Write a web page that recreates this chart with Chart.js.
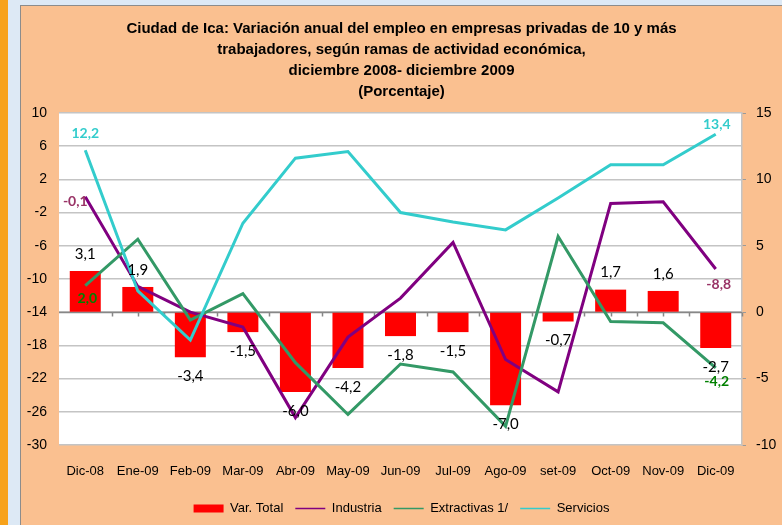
<!DOCTYPE html>
<html lang="es">
<head>
<meta charset="UTF-8">
<title>Ciudad de Ica - Variación anual del empleo</title>
<script src="https://cdn.jsdelivr.net/npm/chart.js"></script>
<style>
    body { margin: 0; width: 782px; height: 525px; background: #dde9f5; position: relative; overflow: hidden; }
    #strip { position: absolute; left: 0; top: 0; width: 8px; height: 525px; background: #f7a21b; }
    #frame { position: absolute; left: 20px; top: 5px; width: 761px; height: 519px;
             border-left: 1px solid #8c8c8c; border-top: 1px solid #8c8c8c; background: #fac090; }
    canvas { display: block; }
</style>
</head>
<body>
<div id="strip"></div>
<div id="frame"><canvas id="chart" width="761" height="519"></canvas></div>
<script>
    const categories = ['Dic-08', 'Ene-09', 'Feb-09', 'Mar-09', 'Abr-09', 'May-09', 'Jun-09',
                        'Jul-09', 'Ago-09', 'set-09', 'Oct-09', 'Nov-09', 'Dic-09'];
    const varTotal    = [3.1, 1.9, -3.4, -1.5, -6.0, -4.2, -1.8, -1.5, -7.0, -0.7, 1.7, 1.6, -2.7];
    const industria   = [-0.1, -10.9, -14.0, -15.8, -26.7, -17.0, -12.3, -5.6, -19.7, -23.6, -0.9, -0.7, -8.8];
    const extractivas = [2.0, 5.5, -0.6, 1.4, -3.8, -7.7, -3.9, -4.5, -8.6, 5.7, -0.7, -0.8, -4.2];
    const servicios   = [12.2, 1.6, -2.1, 6.7, 11.6, 12.1, 7.5, 6.8, 6.2, 8.6, 11.1, 11.1, 13.4];

    // left axis (Industria) and right axis (everything else)
    const leftRange  = { min: -30, max: 10, step: 4 };
    const rightRange = { min: -10, max: 15, step: 5 };

    const sans = "'Liberation Sans', Arial, sans-serif";
    const fmt = v => v.toFixed(1).replace('.', ',');

    // white plot area + darker zero line of the right axis with small ticks
    const plotArea = {
        id: 'plotArea',
        beforeDraw(chart) {
            const { ctx, chartArea: a } = chart;
            ctx.save();
            ctx.fillStyle = '#ffffff';
            ctx.fillRect(a.left, a.top, a.right - a.left, a.bottom - a.top);
            ctx.restore();
        },
        beforeDatasetsDraw(chart) {
            const { ctx, chartArea: a, scales } = chart;
            const y0 = Math.round(scales.y1.getPixelForValue(0)) + 0.5;
            ctx.save();
            ctx.strokeStyle = '#878787';
            ctx.lineWidth = 1.5;
            ctx.beginPath();
            ctx.moveTo(a.left, y0);
            ctx.lineTo(a.right, y0);
            for (let i = 0.5; i < categories.length; i += 0.5) {
                const x = Math.round(scales.x.getPixelForValue(i)) + 0.5;
                ctx.moveTo(x, y0);
                ctx.lineTo(x, y0 + 4);
            }
            ctx.stroke();
            ctx.restore();
        }
    };

    // value labels: all bars, first and last point of each line
    const valueLabels = {
        id: 'valueLabels',
        afterDatasetsDraw(chart) {
            const ctx = chart.ctx;
            ctx.save();
            ctx.textAlign = 'center';
            ctx.textBaseline = 'middle';
            chart.data.datasets.forEach((ds, di) => {
                const meta = chart.getDatasetMeta(di);
                if (ds.type === 'bar') {
                    ctx.font = "15px Lato, 'Open Sans', sans-serif";
                    ctx.fillStyle = '#000000';
                    meta.data.forEach((el, i) => {
                        const v = ds.data[i];
                        const y = v >= 0 ? el.y - 17 : el.y + 19;
                        ctx.fillText(fmt(v), el.x, y);
                    });
                } else {
                    ctx.font = "bold 14px Lato, 'Open Sans', sans-serif";
                    ctx.fillStyle = ds.labelColor;
                    const last = ds.data.length - 1;
                    [[0, ds.firstOffset], [last, ds.lastOffset]].forEach(([i, off]) => {
                        const el = meta.data[i];
                        ctx.fillText(fmt(ds.data[i]), el.x + off[0], el.y + off[1]);
                    });
                }
            });
            ctx.restore();
        }
    };

    new Chart(document.getElementById('chart'), {
        data: {
            labels: categories,
            datasets: [
                {
                    type: 'bar', label: 'Var. Total', data: varTotal, yAxisID: 'y1',
                    backgroundColor: '#ff0000', barPercentage: 0.59, categoryPercentage: 1,
                    order: 10, pointStyle: 'rect'
                },
                {
                    type: 'line', label: 'Industria', data: industria, yAxisID: 'y',
                    borderColor: '#800080', backgroundColor: '#800080', borderWidth: 3,
                    pointRadius: 0, tension: 0, order: 3, pointStyle: 'line',
                    labelColor: '#993366', firstOffset: [-10, 5], lastOffset: [3, 15]
                },
                {
                    type: 'line', label: 'Extractivas 1/', data: extractivas, yAxisID: 'y1',
                    borderColor: '#339966', backgroundColor: '#339966', borderWidth: 3,
                    pointRadius: 0, tension: 0, order: 2, pointStyle: 'line',
                    labelColor: '#008000', firstOffset: [2, 13], lastOffset: [1, 14]
                },
                {
                    type: 'line', label: 'Servicios', data: servicios, yAxisID: 'y1',
                    borderColor: '#33cccc', backgroundColor: '#33cccc', borderWidth: 3,
                    pointRadius: 0, tension: 0, order: 1, pointStyle: 'line',
                    labelColor: '#33cccc', firstOffset: [0, -17], lastOffset: [1, -10]
                }
            ]
        },
        options: {
            responsive: false,
            animation: false,
            devicePixelRatio: 1,
            layout: { padding: { left: 0, right: 0, top: 0, bottom: 0 } },
            scales: {
                x: {
                    grid: { display: false, drawTicks: false },
                    border: { display: false },
                    ticks: { color: '#000', font: { family: sans, size: 13 }, padding: 19, maxRotation: 0, autoSkip: false },
                    afterFit(s) { s.height = 45; }
                },
                y: {
                    position: 'left',
                    min: leftRange.min, max: leftRange.max,
                    grid: { color: '#c4c4c4', lineWidth: 1.5, drawTicks: false },
                    border: { display: false },
                    ticks: { stepSize: leftRange.step, color: '#000', font: { family: sans, size: 14 }, padding: 12 },
                    afterFit(s) { s.width = 38; }
                },
                y1: {
                    position: 'right',
                    min: rightRange.min, max: rightRange.max,
                    grid: { drawOnChartArea: false, color: '#9a9a9a', tickLength: 4 },
                    border: { display: true, color: '#c4c4c4', width: 1.5 },
                    ticks: { stepSize: rightRange.step, color: '#000', font: { family: sans, size: 14 }, padding: 10 },
                    afterFit(s) { s.width = 40; }
                }
            },
            plugins: {
                title: {
                    display: true,
                    text: ['Ciudad de Ica: Variación anual del empleo en empresas privadas de 10 y más',
                           'trabajadores, según ramas de actividad económica,',
                           'diciembre 2008- diciembre 2009',
                           '(Porcentaje)'],
                    color: '#000',
                    font: { family: sans, size: 15, weight: 'bold', lineHeight: 1.4 },
                    padding: { top: 12, bottom: 11 }
                },
                legend: {
                    position: 'bottom',
                    labels: {
                        usePointStyle: true, pointStyleWidth: 30, boxHeight: 8,
                        color: '#000', font: { family: sans, size: 13 }, padding: 12,
                        sort: (a, b) => a.datasetIndex - b.datasetIndex,
                        generateLabels(chart) {
                            const items = Chart.defaults.plugins.legend.labels.generateLabels(chart);
                            items.forEach(it => { if (it.pointStyle === 'line') it.lineWidth = 1.5; });
                            return items;
                        }
                    }
                },
                tooltip: { enabled: false }
            }
        },
        plugins: [plotArea, valueLabels]
    });
</script>
</body>
</html>
